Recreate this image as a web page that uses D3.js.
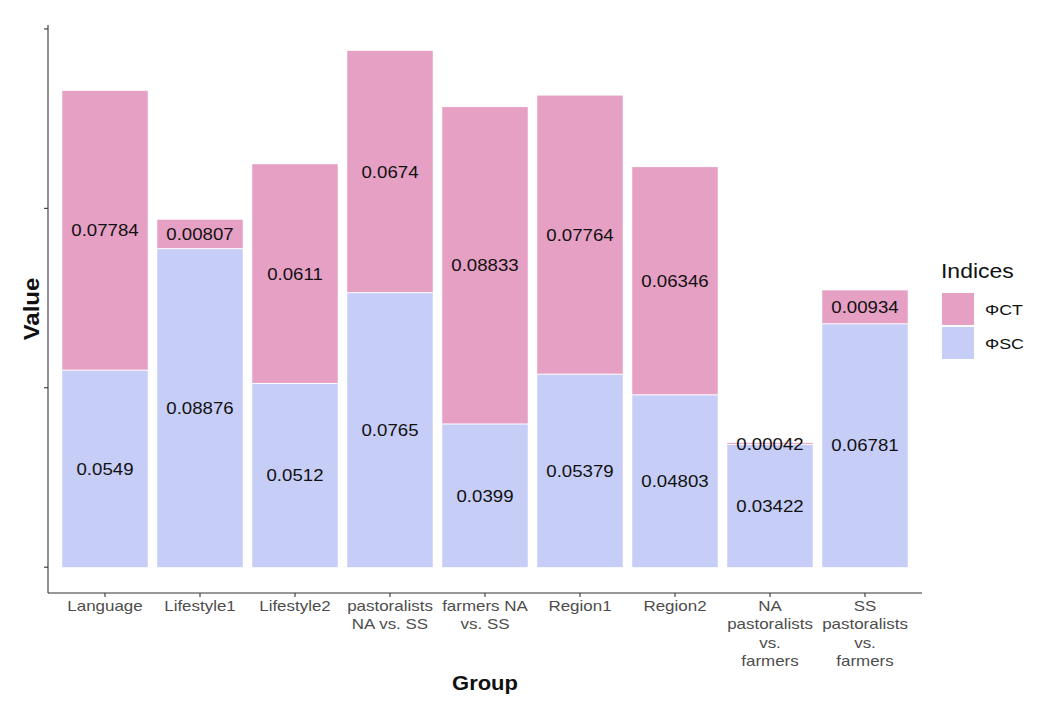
<!DOCTYPE html>
<html><head><meta charset="utf-8">
<script src="https://cdn.jsdelivr.net/npm/d3@7"></script>
<style>body{margin:0;background:#fff;} text{font-family:"Liberation Sans",Arial,sans-serif;}</style>
</head><body>
<svg id="c" width="1040" height="709"></svg>
<script>
const groups = ["Language","Lifestyle1","Lifestyle2","pastoralists NA vs. SS","farmers NA vs. SS","Region1","Region2","NA pastoralists vs. farmers","SS pastoralists vs. farmers"];
const groupLines = [["Language"],["Lifestyle1"],["Lifestyle2"],["pastoralists","NA vs. SS"],["farmers NA","vs. SS"],["Region1"],["Region2"],["NA","pastoralists","vs.","farmers"],["SS","pastoralists","vs.","farmers"]];
const phiSC = [0.0549,0.08876,0.0512,0.0765,0.0399,0.05379,0.04803,0.03422,0.06781];
const phiCT = [0.07784,0.00807,0.0611,0.0674,0.08833,0.07764,0.06346,0.00042,0.00934];
const seriesNames = ["ΦCT","ΦSC"];
const seriesColors = ["#E6A0C4","#C6CDF7"];
const yTicks = [0,0.05,0.10,0.15];

const svg = d3.select("#c");
const L = 48, R = 922, T = 25, B = 593;
const SX = 1.13;
function stext(parent, x, y, str, size, opts={}) {
  const gg = parent.append("g").attr("transform",`translate(${x},${y}) scale(${opts.sx||SX},1)`);
  return gg.append("text").attr("x",0).attr("y",0)
    .attr("text-anchor",opts.anchor||"middle")
    .attr("dy",opts.dy||null)
    .attr("font-size",size)
    .attr("font-weight",opts.bold?"bold":null)
    .attr("fill",opts.fill||"#111").text(str);
}
const totals = groups.map((g,i)=>phiSC[i]+phiCT[i]);
const maxT = d3.max(totals);
const pad = maxT*0.05;
const y = d3.scaleLinear().domain([-pad, maxT+pad]).range([B,T]);
const n = groups.length;
const x = d3.scaleLinear().domain([0.4, n+0.6]).range([L,R]);
const bw = (x(1)-x(0))*0.9;

const g = svg.append("g");
groups.forEach((grp,i)=>{
  const cx = x(i+1);
  const sc = phiSC[i], ct = phiCT[i];
  g.append("rect").attr("x",cx-bw/2).attr("width",bw)
    .attr("y",y(sc)).attr("height",y(0)-y(sc)).attr("fill",seriesColors[1]);
  g.append("rect").attr("x",cx-bw/2).attr("width",bw)
    .attr("y",y(sc+ct)).attr("height",y(sc)-y(sc+ct)).attr("fill",seriesColors[0]);
  g.append("line").attr("x1",cx-bw/2).attr("x2",cx+bw/2).attr("y1",y(sc)).attr("y2",y(sc))
    .attr("stroke","#fff").attr("stroke-width",1);
  stext(g, cx, y(sc/2), String(sc), 16.5, {dy:"0.36em"});
  stext(g, cx, y(sc+ct/2), String(ct), 16.5, {dy:"0.36em"});
});

// axes
const ax = svg.append("g").attr("stroke","#333");
ax.append("line").attr("x1",L).attr("x2",L).attr("y1",T).attr("y2",B).attr("stroke-width",1.1);
ax.append("line").attr("x1",L).attr("x2",R).attr("y1",B).attr("y2",B).attr("stroke-width",1.1);
yTicks.forEach(t=>{
  ax.append("line").attr("x1",L-4).attr("x2",L).attr("y1",y(t)).attr("y2",y(t)).attr("stroke-width",1.1);
});
groups.forEach((grp,i)=>{
  const cx = x(i+1);
  ax.append("line").attr("x1",cx).attr("x2",cx).attr("y1",B).attr("y2",B+4).attr("stroke-width",1.1);
  groupLines[i].forEach((ln,k)=>{
    stext(svg, cx, 611+k*18.3, ln, 15, {fill:"#4d4d4d"});
  });
});

stext(svg, 485, 690, "Group", 20, {bold:true, sx:1.1});
svg.append("g").attr("transform",`translate(39,${(T+B)/2}) rotate(-90) scale(1.2,1.1)`)
  .append("text").attr("text-anchor","middle").attr("font-size",20).attr("font-weight","bold")
  .attr("fill","#111").text("Value");

// legend
const lg = svg.append("g");
stext(lg, 941, 278, "Indices", 20.5, {anchor:"start", sx:1.12});
seriesNames.forEach((s,k)=>{
  lg.append("rect").attr("x",942).attr("y",293+k*34).attr("width",32).attr("height",32).attr("fill",seriesColors[k]);
  stext(lg, 985, 309+k*34, s, 15.5, {anchor:"start", dy:"0.36em", sx:1.15});
});
</script>
</body></html>
